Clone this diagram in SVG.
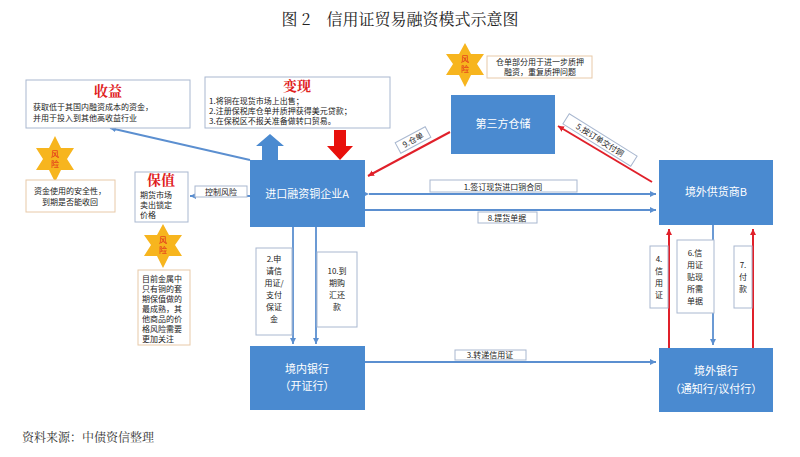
<svg xmlns="http://www.w3.org/2000/svg" width="800" height="457" viewBox="0 0 800 457">
<defs>
<style>
.n{fill:#4a8ad0}
.nt{fill:#fff;font-family:"Noto Sans CJK SC",sans-serif;font-size:11px;text-anchor:middle}
.b{fill:#fff;stroke:#a9b8d0;stroke-width:1}
.rb{fill:#fff;stroke:#e8c9a8;stroke-width:1}
.t{font-family:"Noto Sans CJK SC",sans-serif;font-size:8px;fill:#222}
.lb{font-family:"Noto Sans CJK SC",sans-serif;font-size:8px;fill:#222;text-anchor:middle}
.h{font-family:"Noto Serif CJK SC","Noto Sans CJK SC",serif;font-size:14px;font-weight:bold;fill:#e0201c;text-anchor:middle}
.bl{stroke:#5b8fd0;stroke-width:1.8;fill:none}
.rl{stroke:#e0202a;stroke-width:2;fill:none}
.star{fill:#f7b51e}
.st{font-family:"Noto Sans CJK SC",sans-serif;font-size:8px;fill:#e0201c;text-anchor:middle}
</style>
<marker id="ab" markerWidth="8" markerHeight="8" refX="6" refY="3" orient="auto" markerUnits="userSpaceOnUse"><path d="M0,0 L6,3 L0,6 z" fill="#5b8fd0"/></marker>
<marker id="ar" markerWidth="8" markerHeight="8" refX="6" refY="3" orient="auto" markerUnits="userSpaceOnUse"><path d="M0,0 L6,3 L0,6 z" fill="#e0202a"/></marker>
</defs>
<rect width="800" height="457" fill="#fff"/>
<text x="400" y="25" font-family="Noto Serif CJK SC,Noto Sans CJK SC,serif" font-size="16" text-anchor="middle" fill="#222">图 2　信用证贸易融资模式示意图</text>

<g id="connectors">
<line class="bl" x1="250" y1="160" x2="110" y2="128" marker-end="url(#ab)"/>
<path d="M262,160 L262,146 L256,146 L270,134 L284,146 L278,146 L278,160 z" fill="#4a8ad0"/>
<path d="M334,130 L346,130 L346,146 L353,146 L340,160 L327,146 L334,146 z" fill="#e8100c"/>
<line class="bl" x1="250" y1="196" x2="190" y2="196" marker-end="url(#ab)"/>
<line class="bl" x1="369" y1="194" x2="656" y2="194" marker-end="url(#ab)" marker-start="url(#ab)"/>
<line class="bl" x1="365" y1="210" x2="656" y2="210" marker-end="url(#ab)"/>
<line class="rl" x1="450" y1="132" x2="368" y2="176" marker-end="url(#ar)"/>
<line class="rl" x1="652" y1="182" x2="558" y2="126" marker-end="url(#ar)"/>
<line class="bl" x1="293" y1="227" x2="293" y2="344" marker-end="url(#ab)"/>
<line class="bl" x1="316" y1="227" x2="316" y2="344" marker-end="url(#ab)"/>
<line class="bl" x1="365" y1="362" x2="656" y2="362" marker-end="url(#ab)"/>
<line class="rl" x1="669" y1="348" x2="669" y2="229" marker-end="url(#ar)"/>
<line class="rl" x1="753" y1="348" x2="753" y2="229" marker-end="url(#ar)"/>
<line class="bl" x1="713" y1="225" x2="713" y2="345" marker-end="url(#ab)"/>
</g>

<g id="shouyi">
<rect class="b" x="26" y="80" width="164" height="48"/>
<text class="h" x="108" y="96">收益</text>
<text class="t" x="33" y="110">获取低于其国内融资成本的资金，</text>
<text class="t" x="33" y="121">并用于投入到其他高收益行业</text>
</g>
<g id="bianxian">
<rect class="b" x="205" y="77" width="185" height="51"/>
<text class="h" x="297" y="91">变现</text>
<text class="t" x="209" y="104">1.将铜在现货市场上出售；</text>
<text class="t" x="209" y="114">2.注册保税库仓单并质押获得美元贷款；</text>
<text class="t" x="209" y="124">3.在保税区不报关准备做转口贸易。</text>
</g>
<g id="risk1">
<polygon class="star" points="55,136 61,148 74,148 67,159 74,170 61,170 55,182 49,170 36,170 43,159 36,148 49,148"/>
<text class="st" x="55" y="157">风</text><text class="st" x="55" y="167">险</text>
<rect class="rb" x="26" y="180" width="89" height="32"/>
<text class="lb" x="70" y="194" font-size="7.5">资金使用的安全性，</text>
<text class="lb" x="70" y="205" font-size="7.5">到期是否能收回</text>
</g>
<g id="baozhi">
<rect class="b" x="135" y="172" width="53" height="50"/>
<text class="h" x="161" y="185">保值</text>
<text class="t" x="140" y="198">期货市场</text>
<text class="t" x="140" y="208">卖出锁定</text>
<text class="t" x="140" y="218">价格</text>
</g>
<g id="risk2">
<polygon class="star" points="163,224 169,235 182,235 175,245 182,256 169,256 163,268 157,256 144,256 151,245 144,235 157,235"/>
<text class="st" x="163" y="243">风</text><text class="st" x="163" y="253">险</text>
<rect class="rb" x="138" y="270" width="52" height="75"/>
<text class="t" x="142" y="282" font-size="7.5">目前金属中</text>
<text class="t" x="142" y="292" font-size="7.5">只有铜的套</text>
<text class="t" x="142" y="302" font-size="7.5">期保值做的</text>
<text class="t" x="142" y="312" font-size="7.5">最成熟，其</text>
<text class="t" x="142" y="322" font-size="7.5">他商品的价</text>
<text class="t" x="142" y="332" font-size="7.5">格风险需要</text>
<text class="t" x="142" y="342" font-size="7.5">更加关注</text>
</g>
<g id="risk3">
<polygon class="star" points="465,43 471,54 484,54 477,64 484,75 471,75 465,87 459,75 446,75 453,64 446,54 459,54"/>
<text class="st" x="465" y="62">风</text><text class="st" x="465" y="72">险</text>
<rect class="rb" x="487" y="56" width="105" height="22"/>
<text class="lb" x="540" y="65" font-size="7.5">仓单部分用于进一步质押</text>
<text class="lb" x="540" y="75" font-size="7.5">融资，重复质押问题</text>
</g>
<g id="nodeA"><rect class="n" x="250" y="160" width="115" height="67"/><text class="nt" x="307" y="198">进口融资铜企业A</text></g>
<g id="warehouse"><rect class="n" x="451" y="95" width="104" height="59"/><text class="nt" x="503" y="128">第三方仓储</text></g>
<g id="nodeB"><rect class="n" x="659" y="160" width="114" height="65"/><text class="nt" x="716" y="196">境外供货商B</text></g>
<g id="bankIn"><rect class="n" x="250" y="346" width="115" height="64"/><text class="nt" x="307" y="373">境内银行</text><text class="nt" x="307" y="390">（开证行）</text></g>
<g id="bankOut"><rect class="n" x="659" y="348" width="114" height="64"/><text class="nt" x="716" y="375">境外银行</text><text class="nt" x="716" y="393">（通知行/议付行）</text></g>

<g id="labels">
<rect class="b" x="195" y="186" width="52" height="11"/><text class="lb" x="221" y="195">控制风险</text>
<rect class="b" x="430" y="180" width="147" height="12"/><text class="lb" x="503" y="190">1.签订现货进口铜合同</text>
<rect class="b" x="478" y="212" width="59" height="11"/><text class="lb" x="507" y="221">8.提货单据</text>
<rect class="b" x="455" y="350" width="71" height="10"/><text class="lb" x="490" y="358">3.转递信用证</text>
<g transform="translate(413,140) rotate(-28)"><rect class="b" x="-17" y="-6" width="34" height="12"/><text class="lb" x="0" y="3">9.仓单</text></g>
<g transform="translate(600,140) rotate(32)"><rect class="b" x="-40" y="-6" width="80" height="12"/><text class="lb" x="0" y="3">5.按订单交付铜</text></g>
<rect class="b" x="256" y="248" width="36" height="87"/>
<text class="lb" x="274" y="262">2.申</text><text class="lb" x="274" y="274">请信</text><text class="lb" x="274" y="286">用证/</text><text class="lb" x="274" y="298">支付</text><text class="lb" x="274" y="310">保证</text><text class="lb" x="274" y="322">金</text>
<rect class="b" x="317" y="252" width="40" height="75"/>
<text class="lb" x="337" y="274">10.到</text><text class="lb" x="337" y="286">期购</text><text class="lb" x="337" y="298">汇还</text><text class="lb" x="337" y="310">款</text>
<rect class="b" x="650" y="246" width="18" height="62"/>
<text class="lb" x="659" y="262">4.</text><text class="lb" x="659" y="274">信</text><text class="lb" x="659" y="286">用</text><text class="lb" x="659" y="298">证</text>
<rect class="b" x="677" y="240" width="37" height="73"/>
<text class="lb" x="695" y="256">6.信</text><text class="lb" x="695" y="268">用证</text><text class="lb" x="695" y="280">贴现</text><text class="lb" x="695" y="292">所需</text><text class="lb" x="695" y="304">单据</text>
<rect class="b" x="734" y="246" width="18" height="62"/>
<text class="lb" x="743" y="268">7.</text><text class="lb" x="743" y="280">付</text><text class="lb" x="743" y="292">款</text>
</g>
<text x="22" y="442" font-family="Noto Serif CJK SC,Noto Sans CJK SC,serif" font-size="12" fill="#333">资料来源：中债资信整理</text>
</svg>
